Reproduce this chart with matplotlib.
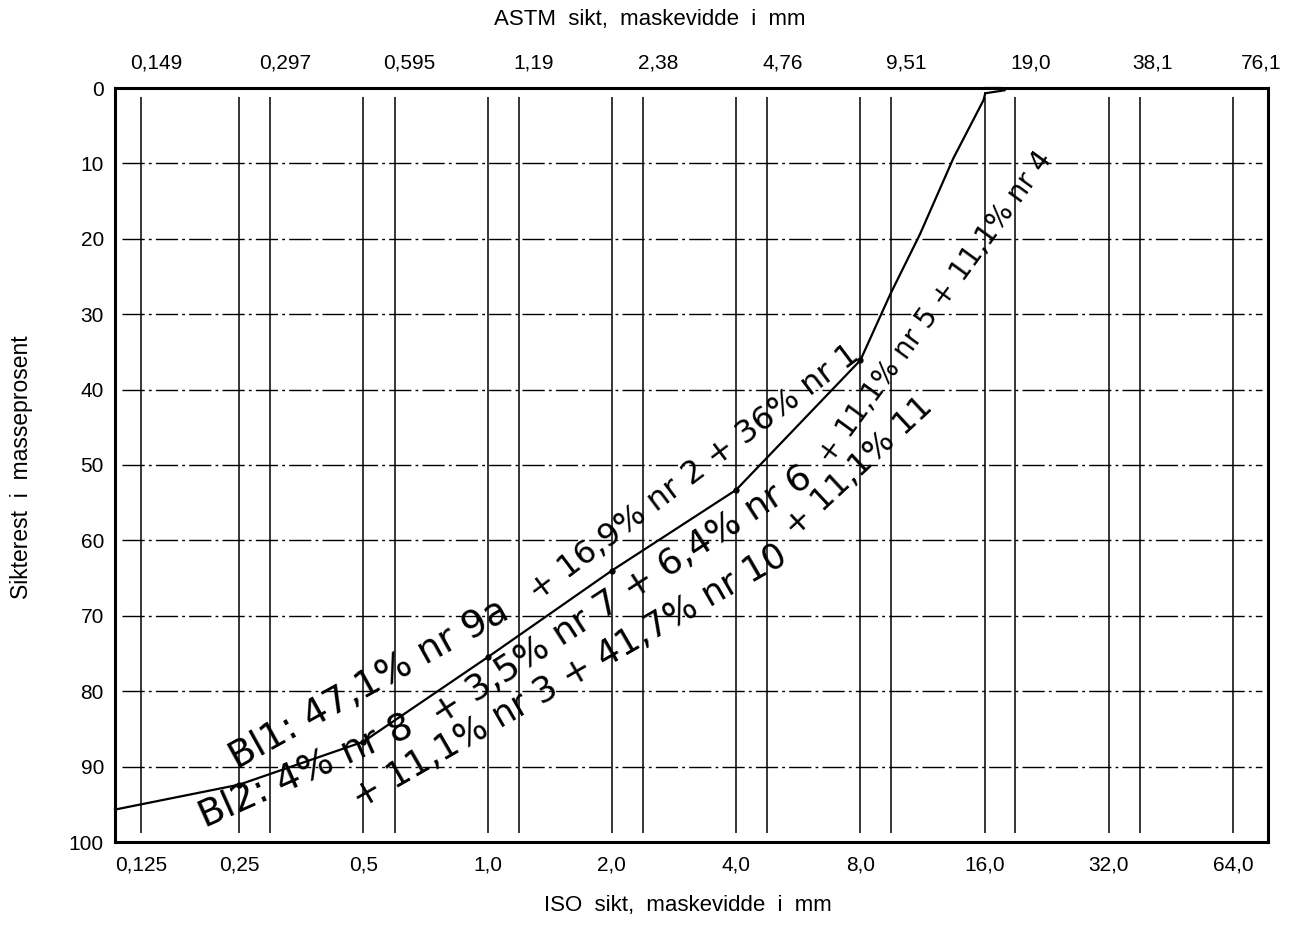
import numpy as np
import matplotlib.pyplot as plt
from matplotlib.transforms import ScaledTranslation

plt.rcParams['font.family'] = ['Liberation Sans', 'DejaVu Sans']

# sieve sizes (mm)
iso_sizes = [0.125, 0.25, 0.5, 1.0, 2.0, 4.0, 8.0, 16.0, 32.0, 64.0]
iso_labels = ['0,125', '0,25', '0,5', '1,0', '2,0', '4,0', '8,0', '16,0', '32,0', '64,0']
astm_sizes = [0.149, 0.297, 0.595, 1.19, 2.38, 4.76, 9.51, 19.0, 38.1, 76.1]
astm_labels = ['0,149', '0,297', '0,595', '1,19', '2,38', '4,76', '9,51', '19,0', '38,1', '76,1']
astm_lines = [0.297, 0.595, 1.19, 2.38, 4.76, 9.51, 19.0, 38.1]
pct_ticks = [0, 10, 20, 30, 40, 50, 60, 70, 80, 90, 100]

# grading curve (sikterest %)
curve_sizes = [0.104, 0.25, 0.5, 1.0, 2.0, 4.0, 8.0, 9.44, 11.15, 13.44, 15.9, 16.05]
curve_pct = [95.7, 92.4, 86.7, 75.5, 64.0, 53.3, 36.1, 27.4, 19.4, 9.3, 1.6, 0.7]
point_sizes = [0.25, 0.5, 1.0, 2.0, 4.0, 8.0]
point_pct = [92.4, 86.7, 75.5, 64.0, 53.3, 36.1]
hook_sizes = [16.05, 17.9, 17.6, 16.1]
hook_pct = [0.7, 0.3, 0.0, 0.0]

# handwritten notes (split where the writing bends)
notes = [
    'Bl1: 47,1% nr 9a',
    '+ 16,9% nr 2 + 36% nr 1',
    'Bl2: 4% nr 8',
    '+ 3,5% nr 7 + 6,4% nr 6',
    '+ 11,1% nr 5 + 11,1% nr 4',
    '+ 11,1% nr 3 + 41,7% nr 10',
    '+ 11,1% 11',
]

# the chart squeezes the 0,125-0,25 interval, log2 elsewhere
K = 0.789


def fwd(x):
    with np.errstate(divide='ignore', invalid='ignore'):
        l = np.log2(np.asarray(x, float) / 0.25)
    return np.where(l < 0, l * K, l)


def inv(p):
    p = np.asarray(p, float)
    return 0.25 * 2 ** np.where(p < 0, p / K, p)


fig = plt.figure(figsize=(12.97, 9.27), dpi=100)
ax = fig.add_axes([115 / 1297, 1 - 842 / 927, 1153 / 1297, 754 / 927])
ax.set_xscale('function', functions=(fwd, inv))
ax.set_xlim(0.104, 77.7)
ax.set_ylim(100, 0)

# grid
ax.vlines(iso_sizes + astm_lines, 1.2, 98.8, color='black', lw=1.1)
for y in pct_ticks[1:-1]:
    ax.axhline(y, xmin=0.006, xmax=0.995, color='black', lw=1.0, ls=(0, (16, 3, 2, 3)))

# curve
ax.plot(curve_sizes, curve_pct, color='black', lw=1.6, clip_on=False)
ax.plot(hook_sizes, hook_pct, color='black', lw=1.6, clip_on=False)
ax.plot(point_sizes, point_pct, 'o', color='black', ms=3.5)

ax.set_xticks(iso_sizes, iso_labels)
ax.set_yticks(pct_ticks, [str(v) for v in pct_ticks])
ax.minorticks_off()
ax.tick_params(axis='x', length=0, labelsize=15, pad=10)
ax.tick_params(axis='y', length=0, labelsize=15, pad=8)
for s in ax.spines.values():
    s.set_linewidth(2.2)

ax2 = ax.twiny()
ax2.set_xscale('function', functions=(fwd, inv))
ax2.set_xlim(ax.get_xlim())
ax2.set_xticks(astm_sizes, astm_labels)
ax2.minorticks_off()
ax2.tick_params(axis='x', length=0, labelsize=15, pad=11)
for s in ax2.spines.values():
    s.set_visible(False)
# top labels are printed a bit right of their lines
shifts = [-10, 15, 15, 15, 15, 15, 15, 15, 12, -3]
for lbl, dx in zip(ax2.get_xticklabels(), shifts):
    lbl.set_transform(lbl.get_transform() + ScaledTranslation(dx / 100, 0, fig.dpi_scale_trans))

fig.text(650 / 1297, 1 - 20 / 927, 'ASTM  sikt,  maskevidde  i  mm', ha='center', va='center', fontsize=16)
fig.text(688 / 1297, 1 - 905 / 927, 'ISO  sikt,  maskevidde  i  mm', ha='center', va='center', fontsize=16)
fig.text(22 / 1297, 1 - 467 / 927, 'Sikterest  i  masseprosent', rotation=90,
         ha='center', va='center', fontsize=16.5)

# handwriting
hand = dict(transform=ax.transAxes, rotation_mode='anchor', ha='left', va='baseline',
            family='DejaVu Sans', color='black')
ax.text(0.1058, 0.0955, notes[0], rotation=29, fontsize=27, **hand)
ax.text(0.3669, 0.3183, notes[1], rotation=37, fontsize=23, **hand)
ax.text(0.0781, 0.0186, notes[2], rotation=24, fontsize=27, **hand)
ax.text(0.2819, 0.1538, notes[3], rotation=33, fontsize=26, **hand)
ax.text(0.6210, 0.50, notes[4], rotation=54, fontsize=20, **hand)
ax.text(0.2125, 0.0425, notes[5], rotation=30, fontsize=25, **hand)
ax.text(0.5898, 0.4032, notes[6], rotation=43, fontsize=23, **hand)

fig.savefig('out.png', dpi=100)
